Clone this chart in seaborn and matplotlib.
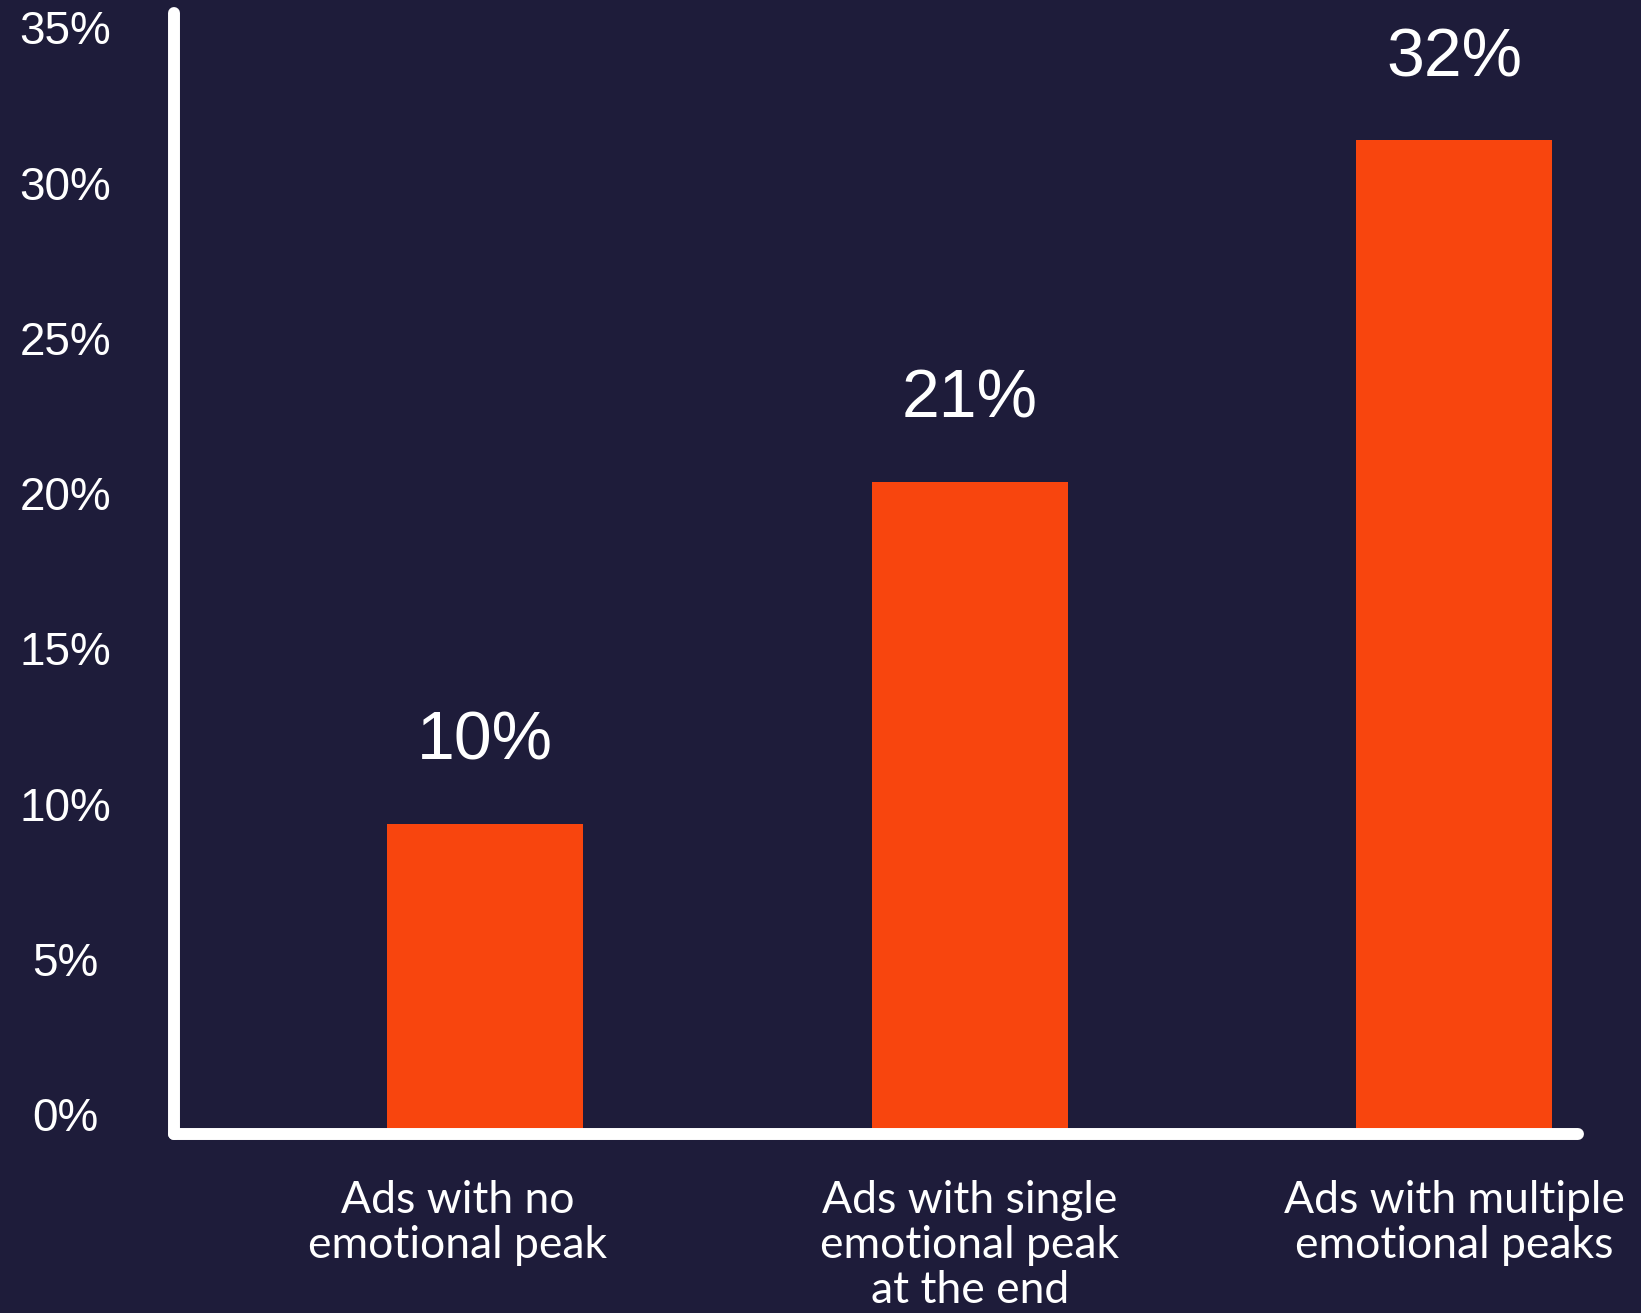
import matplotlib
matplotlib.use("Agg")
import matplotlib.pyplot as plt
import matplotlib.transforms as mtransforms
import seaborn as sns
import pandas as pd

categories = ["Ads with no\nemotional peak",
              "Ads with single\nemotional peak\nat the end",
              "Ads with multiple\nemotional peaks"]
values = [10, 21, 32]
value_labels = ["10%", "21%", "32%"]
yticks = [0, 5, 10, 15, 20, 25, 30, 35]
ytick_labels = ["0%", "5%", "10%", "15%", "20%", "25%", "30%", "35%"]

BG = "#1e1c3a"
BAR = "#f8450e"
WHITE = "#ffffff"

sns.set_theme(style="white")
plt.rcParams["font.family"] = ["Lato", "DejaVu Sans"]

df = pd.DataFrame({"category": categories, "value": values})

fig = plt.figure(figsize=(16.41, 13.13), dpi=100, facecolor=BG)
ax = fig.add_axes([0.106, 0.1363, 0.8556, 0.8537])
ax.set_facecolor(BG)

sns.barplot(data=df, x="category", y="value", color=BAR, width=0.405,
            saturation=1, linewidth=0, edgecolor=BAR, ax=ax, zorder=1)

ax.set_xlim(-0.643, 2.256)
ax.set_ylim(0, 36.1)

for s in ["top", "right"]:
    ax.spines[s].set_visible(False)
for s in ["left", "bottom"]:
    ax.spines[s].set_color(WHITE)
    ax.spines[s].set_linewidth(8.6)
    ax.spines[s].set_capstyle("round")
    ax.spines[s].set_zorder(3)

ax.set_yticks(yticks)
ax.set_yticklabels(ytick_labels, fontsize=33, color=WHITE,
                   family=["Liberation Sans", "DejaVu Sans"], ha="center")
ax.tick_params(axis="y", length=0, pad=78)
offset = mtransforms.ScaledTranslation(0, 20 / 100, fig.dpi_scale_trans)
for lab in ax.get_yticklabels():
    lab.set_transform(lab.get_transform() + offset)

ax.tick_params(axis="x", length=0, pad=33, labelsize=32, labelcolor=WHITE)
for lab in ax.get_xticklabels():
    lab.set_linespacing(1.13)
    lab.set_ha("center")
first = ax.get_xticklabels()[0]
first.set_transform(first.get_transform() +
                    mtransforms.ScaledTranslation(-28 / 100, 0, fig.dpi_scale_trans))

ax.set_xlabel("")
ax.set_ylabel("")
ax.grid(False)

for i, (v, t) in enumerate(zip(values, value_labels)):
    ax.annotate(t, xy=(i, v), xytext=(0, 36), textcoords="offset points",
                ha="center", va="bottom", fontsize=49, color=WHITE,
                family=["Liberation Sans", "DejaVu Sans"])

fig.savefig("out.png", dpi=100, facecolor=BG)
